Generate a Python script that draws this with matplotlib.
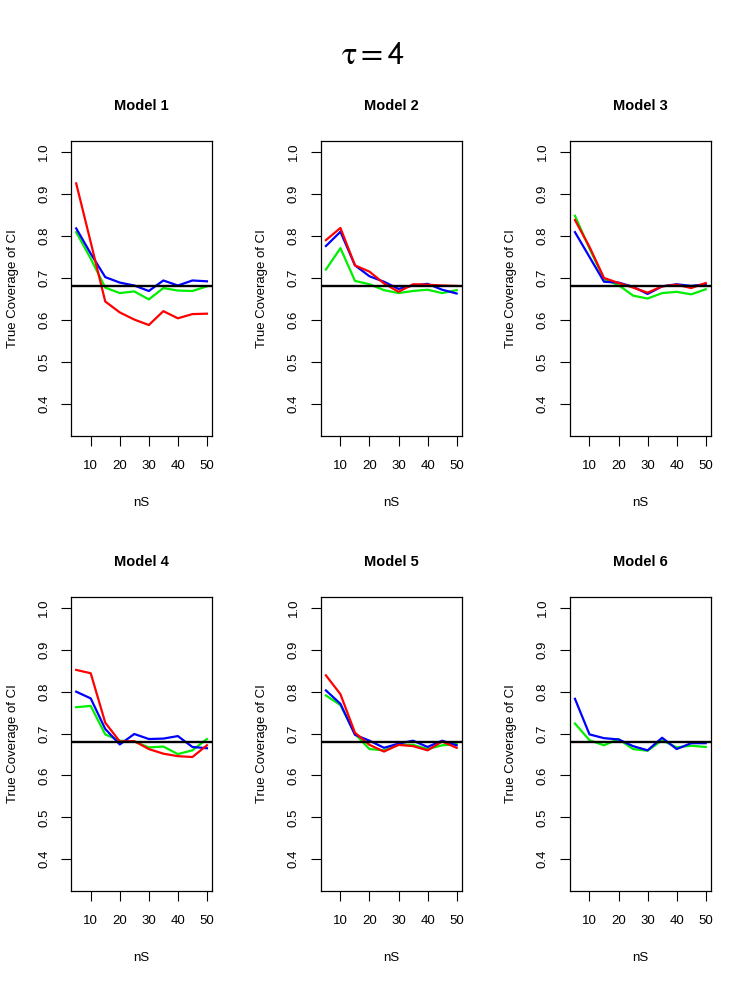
import numpy as np
import matplotlib
matplotlib.use("Agg")
import matplotlib.pyplot as plt

# === data ===
nS = [5, 10, 15, 20, 25, 30, 35, 40, 45, 50]
target = 0.68

red_1 = [0.925, 0.785, 0.644, 0.618, 0.601, 0.588, 0.621, 0.604, 0.614, 0.615]
blue_1 = [0.818, 0.758, 0.702, 0.689, 0.682, 0.669, 0.694, 0.682, 0.694, 0.692]
green_1 = [0.809, 0.746, 0.677, 0.664, 0.668, 0.649, 0.676, 0.670, 0.669, 0.680]

red_2 = [0.790, 0.819, 0.730, 0.715, 0.687, 0.667, 0.685, 0.684, 0.682, 0.681]
blue_2 = [0.776, 0.810, 0.730, 0.704, 0.691, 0.674, 0.682, 0.686, 0.672, 0.663]
green_2 = [0.720, 0.771, 0.693, 0.685, 0.671, 0.664, 0.669, 0.672, 0.664, 0.671]

red_3 = [0.838, 0.774, 0.700, 0.688, 0.677, 0.665, 0.680, 0.684, 0.676, 0.688]
blue_3 = [0.809, 0.750, 0.691, 0.689, 0.679, 0.662, 0.680, 0.685, 0.681, 0.685]
green_3 = [0.848, 0.770, 0.697, 0.683, 0.658, 0.651, 0.664, 0.667, 0.661, 0.673]

red_4 = [0.852, 0.844, 0.726, 0.681, 0.682, 0.663, 0.652, 0.646, 0.644, 0.672]
blue_4 = [0.800, 0.784, 0.711, 0.674, 0.699, 0.687, 0.688, 0.694, 0.668, 0.665]
green_4 = [0.763, 0.766, 0.698, 0.683, 0.681, 0.667, 0.669, 0.651, 0.660, 0.687]

red_5 = [0.839, 0.794, 0.702, 0.673, 0.657, 0.673, 0.670, 0.660, 0.681, 0.666]
blue_5 = [0.803, 0.771, 0.697, 0.683, 0.666, 0.676, 0.683, 0.668, 0.683, 0.672]
green_5 = [0.791, 0.768, 0.699, 0.663, 0.660, 0.673, 0.673, 0.663, 0.672, 0.675]

red_6 = None  # no red line in model 6
blue_6 = [0.783, 0.698, 0.689, 0.686, 0.670, 0.660, 0.690, 0.663, 0.677, 0.677]
green_6 = [0.724, 0.684, 0.672, 0.687, 0.663, 0.659, 0.684, 0.667, 0.671, 0.668]

models = ["Model 1", "Model 2", "Model 3", "Model 4", "Model 5", "Model 6"]
reds = [red_1, red_2, red_3, red_4, red_5, red_6]
blues = [blue_1, blue_2, blue_3, blue_4, blue_5, blue_6]
greens = [green_1, green_2, green_3, green_4, green_5, green_6]

yticks = [0.4, 0.5, 0.6, 0.7, 0.8, 0.9, 1.0]
xticks = [10, 20, 30, 40, 50]

plt.rcParams["font.family"] = ["Liberation Sans", "DejaVu Sans"]
plt.rcParams["mathtext.fontset"] = "stix"

fig = plt.figure(figsize=(7.47, 9.81), dpi=100)

lefts = [0.095, 0.4293, 0.7627]
rows = [(0.5556, 0.3007), (0.0917, 0.2997)]

for i, name in enumerate(models):
    r, c = divmod(i, 3)
    bottom, height = rows[r]
    ax = fig.add_axes([lefts[c], bottom, 0.189, height])

    ax.plot(nS, greens[i], color="#00ee00", lw=1.6)
    ax.plot(nS, blues[i], color="#0000ff", lw=1.6)
    if reds[i] is not None:
        ax.plot(nS, reds[i], color="#ff0000", lw=1.6)
    ax.axhline(target, color="black", lw=1.7)

    # R-style 4% padding
    ax.set_xlim(5 - 1.8, 50 + 1.8)
    ax.set_ylim(0.35 - 0.026, 1.0 + 0.026)
    ax.set_xticks(xticks)
    ax.set_yticks(yticks)
    ax.set_yticklabels([f"{v:.1f}" for v in yticks], rotation=90, va="center")
    ax.tick_params(direction="out", length=7, width=0.8, labelsize=9.5, pad=8)
    ax.tick_params(axis="x", pad=10)
    for s in ax.spines.values():
        s.set_linewidth(0.9)

    ax.set_title(name, fontsize=10.5, fontweight="bold", pad=22)
    ax.set_xlabel("nS", fontsize=9.5, labelpad=18)
    ax.set_ylabel("True Coverage of CI", fontsize=9.5, labelpad=14)

fig.text(0.5, 0.943, r"$\mathrm{\tau} = \mathsf{4}$", ha="center", va="center", fontsize=23)

fig.savefig("out.png", dpi=100)
plt.close()
